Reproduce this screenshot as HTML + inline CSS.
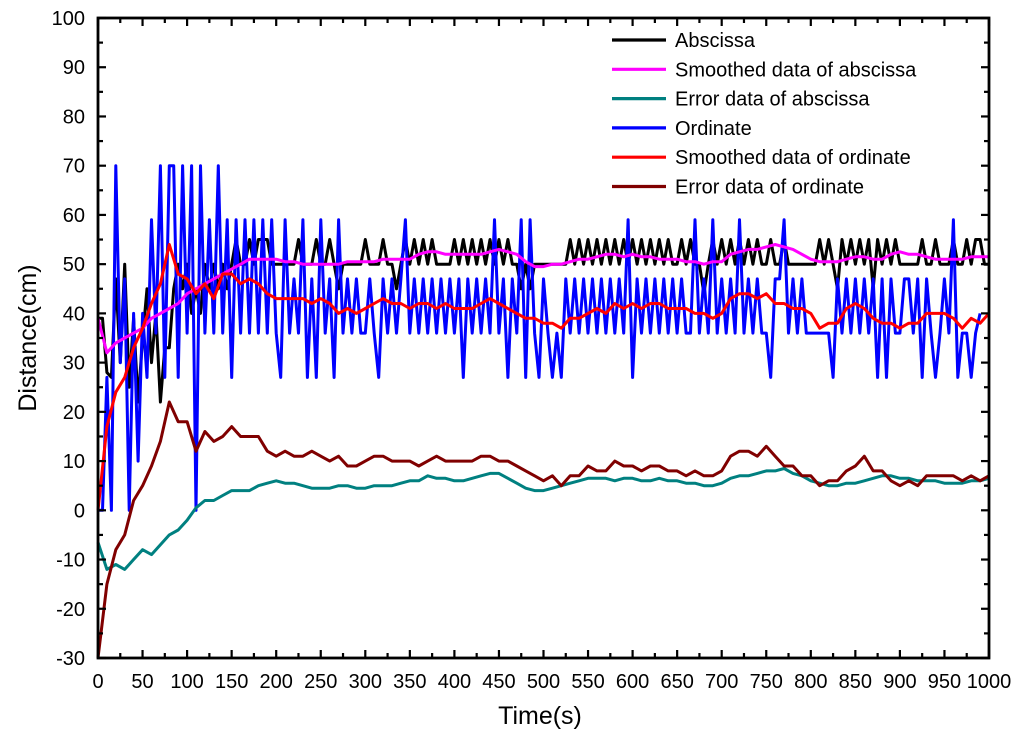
<!DOCTYPE html>
<html><head><meta charset="utf-8"><style>
body{margin:0;background:#fff;}
svg{display:block;font-family:"Liberation Sans",Arial,sans-serif;}
</style></head><body>
<svg id="chart" width="1024" height="737" viewBox="0 0 1024 737" xmlns="http://www.w3.org/2000/svg"></svg>
<script>
const step5 = 5, step10 = 10;
const ordinate = [0,0,27,0,70,30,47,0,40,10,40,27,59,36,70,27,70,70,27,70,36,70,0,70,36,59,36,70,36,59,27,59,36,59,36,59,36,59,36,59,36,27,59,36,47,36,59,27,47,27,59,36,47,27,59,36,47,36,47,36,36,47,36,27,47,36,47,36,47,59,36,47,36,47,36,47,36,47,36,47,36,47,27,47,36,47,36,47,36,59,36,47,27,47,36,59,27,59,36,27,47,36,27,36,27,47,36,47,36,47,36,47,36,47,36,47,36,47,36,59,27,47,36,47,36,47,36,47,36,47,36,47,36,36,59,36,47,36,59,36,47,36,47,36,59,36,47,36,47,36,36,27,47,47,59,36,47,36,47,36,36,36,36,36,36,27,47,36,47,36,47,36,47,36,47,27,47,27,47,36,36,47,47,36,47,27,47,36,27,36,47,36,59,27,36,36,27,36,40];
const abscissa = [39,39,28,27,47,30,50,25,39,22,35,45,30,40,22,33,33,45,50,45,50,40,45,40,50,45,50,45,50,45,50,55,50,50,55,50,55,55,55,50,50,50,50,50,50,55,50,50,50,55,50,50,55,50,45,50,50,50,50,50,55,50,50,50,55,50,50,45,50,55,50,55,50,55,50,55,50,50,50,50,55,50,55,50,55,50,55,50,55,50,55,50,55,50,50,45,50,45,50,50,50,50,50,50,50,50,55,50,55,50,55,50,55,50,55,50,55,50,55,50,55,50,55,50,55,50,55,50,55,50,50,55,50,55,50,50,44,50,55,50,55,50,55,50,55,50,55,50,55,50,50,55,50,50,55,50,50,50,50,50,50,50,55,50,55,50,45,55,50,55,50,55,50,55,45,55,50,55,50,55,50,50,50,50,50,55,50,50,55,50,50,50,55,50,50,55,50,55,55,50,50];
const smoothAbs = [39,32,34,35,36,37,39,40,41,42,44,45,46,47,48,49,50,51,51,51,51,50.5,50.5,50,50,50,50,50,50.5,50.5,50.5,50.5,51,51,51,51,52,52.5,52.5,52,52,52,52,52,52.5,53,52.5,52,50.5,49.5,49.5,50,50,50.5,51,51,51.5,52,52,51.5,52,51.5,51.5,51,51,51,50.5,50.5,50,50.5,50.5,52,52.5,53,53,53.5,54,53.5,53,52,51,50.5,50.5,50.5,51,51.5,51.5,51,51,52,52.5,52,52,51.5,51,51,51,51,51.5,51.5,51.5];
const smoothOrd = [0,17,24,27,33,37,42,46,54,48,47,44,46,43,48,48,46,47,46,44,43,43,43,43,42,43,42,40,41,40,41,42,43,42,42,41,42,42,41,42,41,41,41,42,43,42,41,40,39,39,38,38,37,39,39,40,41,40,42,41,42,41,42,42,41,41,41,40,40,39,40,43,44,44,43,44,42,42,41,41,40,37,38,38,41,42,41,39,38,38,37,38,38,40,40,40,39,37,39,38,40];
const errOrd = [-30,-15,-8,-5,2,5,9,14,22,18,18,12,16,14,15,17,15,15,15,12,11,12,11,11,12,11,10,11,9,9,10,11,11,10,10,10,9,10,11,10,10,10,10,11,11,10,10,9,8,7,6,7,5,7,7,9,8,8,10,9,9,8,9,9,8,8,7,8,7,7,8,11,12,12,11,13,11,9,9,7,7,5,6,6,8,9,11,8,8,6,5,6,5,7,7,7,7,6,7,6,7];
const errAbs = [-6.5,-12,-11,-12,-10,-8,-9,-7,-5,-4,-2,0.5,2,2,3,4,4,4,5,5.5,6,5.5,5.5,5,4.5,4.5,4.5,5,5,4.5,4.5,5,5,5,5.5,6,6,7,6.5,6.5,6,6,6.5,7,7.5,7.5,6.5,5.5,4.5,4,4,4.5,5,5.5,6,6.5,6.5,6.5,6,6.5,6.5,6,6,6.5,6,6,5.5,5.5,5,5,5.5,6.5,7,7,7.5,8,8,8.5,7.5,7,6,5.5,5,5,5.5,5.5,6,6.5,7,7,6.5,6.5,6,6,6,5.5,5.5,5.5,6,6,6.5];
const xTicks = [0,50,100,150,200,250,300,350,400,450,500,550,600,650,700,750,800,850,900,950,1000];
const yTicks = [-30,-20,-10,0,10,20,30,40,50,60,70,80,90,100];
const legendLabels = ["Abscissa","Smoothed data of abscissa","Error data of abscissa","Ordinate","Smoothed data of ordinate","Error data of ordinate"];

const X0=98,X1=989,Y0=658,Y1=18;
const sx=v=>X0+(v/1000)*(X1-X0);
const sy=v=>Y0-((v+30)/130)*(Y0-Y1);
const svg=document.getElementById('chart');
const NS='http://www.w3.org/2000/svg';
function mk(tag,attrs){const e=document.createElementNS(NS,tag);for(const k in attrs)e.setAttribute(k,attrs[k]);svg.appendChild(e);return e;}

function series(arr,step,color,name,w){
  const pts=arr.map((v,i)=>sx(i*step).toFixed(1)+','+sy(v).toFixed(1)).join(' ');
  const p=mk('polyline',{points:pts,fill:'none',stroke:color,'stroke-width':w,'stroke-linejoin':'round'});
  
  
}
const sw=3;
series(abscissa,step5,'#000000','abscissa-line',sw);
series(ordinate,step5,'#0000ff','ordinate-line',sw);
series(smoothAbs,step10,'#ff00ff','smoothed-abscissa-line',sw);
series(smoothOrd,step10,'#ff0000','smoothed-ordinate-line',sw);
series(errAbs,step10,'#008080','error-abscissa-line',sw);
series(errOrd,step10,'#800000','error-ordinate-line',sw);

const fr=mk('rect',{x:X0,y:Y1,width:X1-X0,height:Y0-Y1,fill:'none',stroke:'#000','stroke-width':2.8});



for(let v=0;v<=1000;v+=25){
  const major=v%50===0, L=major?8:5, x=sx(v);
  mk('line',{x1:x,y1:Y0,x2:x,y2:Y0-L,stroke:'#000','stroke-width':2.2});
  mk('line',{x1:x,y1:Y1,x2:x,y2:Y1+L,stroke:'#000','stroke-width':2.2});
}
xTicks.forEach(v=>{
  const t=mk('text',{x:sx(v),y:688,'font-size':20,'text-anchor':'middle',fill:'#000'});
  t.textContent=v;
  
  
});
for(let v=-30;v<=100;v+=5){
  const major=v%10===0, L=major?8:5, y=sy(v);
  mk('line',{x1:X0,y1:y,x2:X0+L,y2:y,stroke:'#000','stroke-width':2.2});
  mk('line',{x1:X1,y1:y,x2:X1-L,y2:y,stroke:'#000','stroke-width':2.2});
}
yTicks.forEach(v=>{
  const t=mk('text',{x:85,y:sy(v)+7,'font-size':20,'text-anchor':'end',fill:'#000'});
  t.textContent=v;
  
  
});
const xt=mk('text',{x:540,y:724,'font-size':25,'text-anchor':'middle',fill:'#000'});
xt.textContent='Time(s)';


const yt=mk('text',{x:36,y:338,'font-size':25,'text-anchor':'middle',fill:'#000',transform:'rotate(-90 36 338)'});
yt.textContent='Distance(cm)';



const colors=['#000000','#ff00ff','#008080','#0000ff','#ff0000','#800000'];
legendLabels.forEach((lab,i)=>{
  const y=40+i*29.3;
  const l=mk('line',{x1:612,y1:y,x2:666,y2:y,stroke:colors[i],'stroke-width':3.2});
  
  
  const t=mk('text',{x:675,y:y+7,'font-size':20,fill:'#000'});
  t.textContent=lab;
  
  
});
</script>
</body></html>
